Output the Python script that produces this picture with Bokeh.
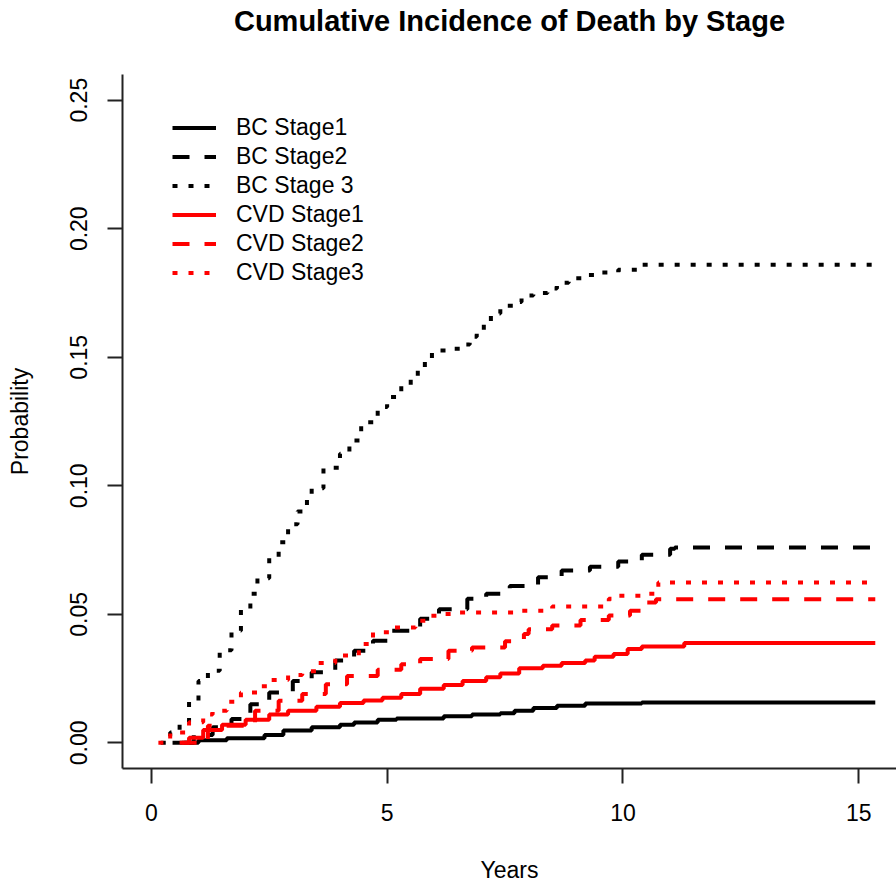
from bokeh.plotting import figure
from bokeh.models import Legend, LegendItem, FixedTicker, NumeralTickFormatter, Range1d
from bokeh.embed import file_html
from bokeh.resources import INLINE

# Cumulative incidence step curves (years since diagnosis, probability)
bc1_years = [0.45, 1.0, 1.6, 2.4, 2.8, 3.4, 4.0, 4.3, 4.8, 5.2, 6.2, 6.8, 7.4, 7.7, 8.1, 8.6, 9.2, 10.4, 15.35]
bc1_prob = [0.0, 0.001, 0.0018, 0.003, 0.0048, 0.006, 0.007, 0.0079, 0.009, 0.0095, 0.0103, 0.011, 0.0115,
            0.0125, 0.0135, 0.0144, 0.0153, 0.0157, 0.0157]

bc2_years = [0.7, 0.9, 1.3, 1.7, 2.1, 2.5, 3.0, 3.4, 3.9, 4.3, 4.7, 5.1, 5.7, 6.1, 6.7, 7.1, 7.6, 8.2, 8.7,
             9.3, 9.9, 10.4, 11.0, 11.1, 15.35]
bc2_prob = [0.0, 0.003, 0.006, 0.0093, 0.015, 0.0196, 0.024, 0.0274, 0.032, 0.0358, 0.0397, 0.0436, 0.0483,
            0.052, 0.056, 0.058, 0.061, 0.0644, 0.067, 0.0685, 0.0705, 0.0732, 0.0755, 0.076, 0.076]

bc3_years = [0.2, 0.4, 0.6, 0.8, 1.0, 1.2, 1.45, 1.7, 1.9, 2.1, 2.25, 2.5, 2.7, 2.9, 3.1, 3.3, 3.4, 3.65, 4.0,
             4.2, 4.45, 4.8, 5.0, 5.3, 5.5, 5.65, 5.8, 5.95, 6.3, 6.55, 6.75, 6.9, 7.05, 7.2, 7.4, 7.7, 7.85,
             8.1, 8.4, 8.6, 8.85, 9.2, 9.5, 9.9, 10.4, 15.35]
bc3_prob = [0.0, 0.004, 0.008, 0.016, 0.024, 0.028, 0.036, 0.0436, 0.052, 0.058, 0.064, 0.072, 0.078, 0.085,
            0.09, 0.0955, 0.099, 0.107, 0.1125, 0.1176, 0.1247, 0.1306, 0.1345, 0.139, 0.142, 0.146, 0.149,
            0.1526, 0.1533, 0.155, 0.158, 0.16, 0.1637, 0.167, 0.17, 0.1715, 0.174, 0.175, 0.1767, 0.179,
            0.1807, 0.182, 0.183, 0.184, 0.186, 0.186]

cvd1_years = [0.65, 0.8, 1.1, 1.5, 2.0, 2.5, 2.9, 3.5, 4.0, 4.5, 4.9, 5.3, 5.7, 6.2, 6.6, 7.1, 7.4, 7.8, 8.3,
              8.7, 9.2, 9.4, 9.8, 10.1, 10.4, 11.3, 15.35]
cvd1_prob = [0.0, 0.002, 0.005, 0.007, 0.009, 0.011, 0.0125, 0.014, 0.0155, 0.0165, 0.0175, 0.019, 0.021,
             0.0225, 0.024, 0.0255, 0.027, 0.029, 0.03, 0.031, 0.032, 0.0335, 0.0345, 0.0365, 0.0375, 0.0388,
             0.0388]

cvd2_years = [0.6, 1.2, 2.2, 2.7, 3.2, 3.7, 4.15, 4.8, 5.3, 5.7, 6.3, 6.8, 7.5, 7.9, 8.0, 8.5, 9.1, 9.7,
              10.15, 10.4, 10.7, 15.35]
cvd2_prob = [0.0, 0.0066, 0.0125, 0.0164, 0.019, 0.0228, 0.026, 0.0284, 0.0306, 0.0326, 0.0358, 0.0371,
             0.0395, 0.0423, 0.0442, 0.0456, 0.0478, 0.0495, 0.0514, 0.0546, 0.0558, 0.0558]

cvd3_years = [0.15, 0.4, 0.8, 1.1, 1.3, 1.6, 1.9, 2.3, 2.5, 2.9, 3.2, 3.5, 3.9, 4.4, 4.7, 5.1, 5.6, 5.9, 6.2,
              6.5, 7.8, 8.5, 9.7, 9.85, 10.5, 10.75, 15.35]
cvd3_prob = [0.0, 0.004, 0.008, 0.011, 0.0125, 0.016, 0.0196, 0.022, 0.0244, 0.0264, 0.0278, 0.031, 0.034,
             0.0384, 0.043, 0.0449, 0.0475, 0.0494, 0.0501, 0.0507, 0.0514, 0.053, 0.056, 0.0572, 0.058,
             0.0624, 0.0624]

series_labels = ["BC Stage1", "BC Stage2", "BC Stage 3", "CVD Stage1", "CVD Stage2", "CVD Stage3"]
x_ticks = [0, 5, 10, 15]
y_ticks = [0.0, 0.05, 0.10, 0.15, 0.20, 0.25]
title_text = "Cumulative Incidence of Death by Stage"

FONT = "Liberation Sans"
W, H = 896, 886
LEFT, TOP, BOTTOM = 122, 74, 118

p = figure(width=W, height=H, output_backend="svg", toolbar_location=None,
           x_range=Range1d(-0.611, 15.80), y_range=Range1d(-0.01, 0.26),
           min_border_left=LEFT, min_border_right=0, min_border_top=TOP, min_border_bottom=BOTTOM)

p.grid.visible = False
p.outline_line_color = None
p.background_fill_color = "white"
p.border_fill_color = "white"

# Title sits near the top edge: bottom padding keeps it clear of the frame
p.title.text = title_text
p.title.align = "center"
p.title.vertical_align = "top"
p.title.text_font = FONT
p.title.text_font_size = "29px"
p.title.text_font_style = "bold"
p.title.text_color = "black"
p.title.standoff = 0
p.title.padding = dict(left=0, right=0, top=2, bottom=36)

for ax in (p.xaxis[0], p.yaxis[0]):
    ax.axis_line_width = 2
    ax.axis_line_color = "#222222"
    ax.major_tick_line_width = 2
    ax.major_tick_line_color = "#222222"
    ax.major_tick_in = 0
    ax.major_tick_out = 15
    ax.minor_tick_line_color = None
    ax.major_label_text_font = FONT
    ax.major_label_text_font_size = "23px"
    ax.major_label_text_color = "black"
    ax.axis_label_text_font = FONT
    ax.axis_label_text_font_size = "23px"
    ax.axis_label_text_font_style = "normal"
    ax.axis_label_text_color = "black"

p.xaxis.ticker = FixedTicker(ticks=x_ticks)
p.yaxis.ticker = FixedTicker(ticks=y_ticks)
p.yaxis.formatter = NumeralTickFormatter(format="0.00")
p.yaxis.major_label_orientation = "vertical"
p.xaxis.axis_label = "Years"
p.yaxis.axis_label = "Probability"
p.xaxis.major_label_standoff = 20
p.xaxis.axis_label_standoff = 33
p.yaxis.major_label_standoff = 20
p.yaxis.axis_label_standoff = 35

DASHED = "17 15"
DOTTED = "5 11"
styles = [
    (bc1_years, bc1_prob, "black", "solid"),
    (bc2_years, bc2_prob, "black", DASHED),
    (bc3_years, bc3_prob, "black", DOTTED),
    (cvd1_years, cvd1_prob, "red", "solid"),
    (cvd2_years, cvd2_prob, "red", DASHED),
    (cvd3_years, cvd3_prob, "red", DOTTED),
]

items = []
for (xs, ys, color, dash), label in zip(styles, series_labels):
    r = p.step(xs, ys, mode="after", line_color=color, line_width=4, line_dash=dash, line_cap="butt")
    items.append(LegendItem(label=label, renderers=[r]))

legend = Legend(items=items, location=(50, 482), orientation="vertical",
                glyph_width=44, glyph_height=23, label_height=23, label_standoff=20,
                spacing=2, padding=0, margin=0,
                label_text_font=FONT, label_text_font_size="23px", label_text_color="black",
                border_line_color=None, background_fill_alpha=0)
p.add_layout(legend, "center")

open("out.html", "w").write(file_html(p, INLINE))
